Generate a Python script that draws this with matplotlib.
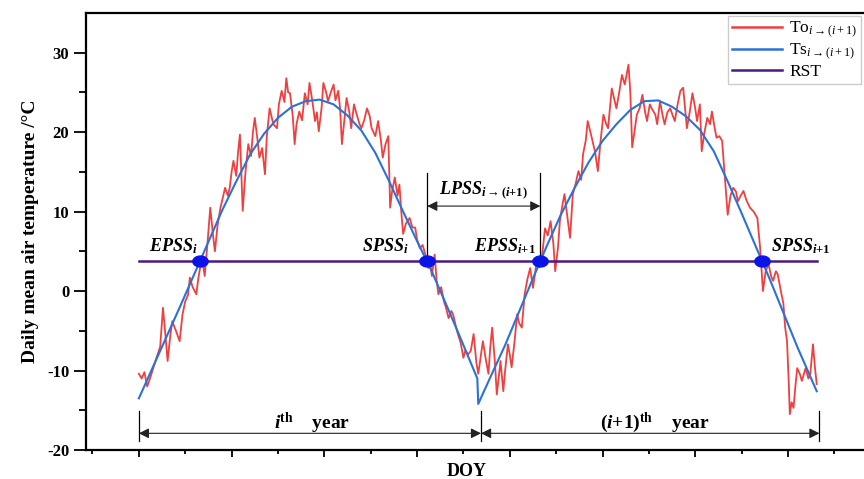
import matplotlib
matplotlib.use("Agg")
import matplotlib.pyplot as plt
from matplotlib.path import Path
import numpy as np

# ---- data ----
to_day = [0, 3, 6, 9, 12, 16, 19, 23, 26, 29, 31, 34, 36, 40, 44, 47, 50, 53, 55, 58,
          62, 64, 66, 69, 71, 74, 77, 80, 82, 85, 88, 90, 93, 96, 98, 100, 102, 105, 107, 109,
          112, 115, 118, 121, 123, 125, 128, 130, 133, 136, 138, 141, 145, 149, 151, 154, 157, 159, 161, 163,
          166, 168, 170, 173, 176, 179, 182, 184, 187, 190, 192, 194, 197, 199, 202, 204, 207, 210, 212, 215,
          217, 219, 222, 224, 227, 229, 232, 235, 238, 240, 243, 246, 249, 251, 255, 258, 261, 263, 266, 269,
          271, 273, 276, 279, 281, 283, 285, 288, 292, 295, 298, 300, 303, 306, 309, 312, 314, 316, 319, 321,
          323, 326, 329, 331, 334, 337, 339, 342, 344, 347, 350, 352, 355, 358, 361, 364, 366, 368, 371, 374,
          377, 379, 381, 384, 386, 388, 390, 393, 395, 398, 400, 402, 405, 408, 410, 413, 416, 419, 422, 425,
          427, 429, 432, 435, 438, 441, 444, 447, 449, 452, 454, 457, 459, 462, 465, 468, 471, 474, 477, 479,
          482, 484, 487, 490, 492, 495, 498, 501, 504, 506, 508, 510, 513, 515, 518, 521, 524, 528, 530, 532,
          535, 537, 540, 543, 546, 548, 551, 553, 557, 559, 562, 565, 567, 570, 573, 576, 578, 581, 584, 587,
          589, 591, 594, 597, 600, 602, 605, 607, 610, 613, 616, 618, 621, 623, 626, 629, 632, 635, 638, 641,
          644, 646, 649, 652, 655, 659, 663, 667, 670, 673, 676, 679, 682, 684, 687, 689, 693, 695, 697, 699,
          701, 702, 704, 706, 708, 710, 713, 715, 717, 719, 722, 724, 726, 727, 729, 731]
to_val = [-10.4, -11.0, -10.2, -12.0, -11.0, -9.5, -8.4, -7.0, -2.1, -6.0, -8.8, -5.5, -3.8, -5.0, -6.3, -3.0, -1.3, -0.5, 1.7, 0.5,
          -0.4, 1.5, 2.9, 3.5, 1.9, 6.0, 10.5, 7.0, 5.0, 8.4, 10.5, 11.5, 13.0, 12.0, 13.0, 15.0, 16.4, 14.5, 17.5, 19.7,
          10.1, 15.0, 18.5, 17.0, 20.0, 21.8, 19.0, 16.8, 18.0, 14.7, 19.5, 23.0, 21.0, 20.5, 23.5, 25.2, 23.8, 26.8, 25.0, 24.9,
          22.0, 18.5, 21.0, 22.6, 21.5, 24.9, 23.5, 26.2, 24.0, 21.4, 22.5, 20.1, 23.0, 26.2, 25.0, 23.9, 25.0, 26.0, 24.0, 25.2,
          23.0, 18.5, 22.0, 24.3, 22.5, 20.5, 23.5, 22.2, 21.0, 20.5, 21.5, 23.0, 22.0, 20.5, 19.5, 21.4, 19.0, 16.8, 18.5, 19.5,
          10.5, 12.5, 14.3, 12.0, 13.4, 10.0, 7.2, 8.5, 9.2, 8.0, 8.0, 6.5, 5.4, 5.8, 4.6, 2.9, 3.8, 1.9, 4.6, 1.5,
          -0.4, 0.5, -1.3, -2.0, -3.4, -2.5, -3.0, -4.5, -5.4, -6.5, -8.4, -7.5, -8.0, -7.5, -5.4, -9.0, -10.4, -8.8, -6.3, -8.5,
          -10.4, -7.0, -4.6, -9.0, -13.0, -11.0, -8.8, -12.6, -10.0, -6.7, -8.0, -9.6, -6.5, -2.9, -4.0, -4.6, -0.4, 1.5, 2.9, 0.4,
          2.0, 3.8, 3.0, 4.6, 7.9, 7.0, 8.8, 6.0, 2.5, 5.5, 8.8, 11.0, 12.2, 9.5, 6.7, 12.2, 13.5, 15.1, 14.0, 17.2,
          19.0, 21.4, 20.0, 18.5, 17.5, 15.1, 19.0, 22.2, 21.0, 20.5, 23.0, 25.5, 24.0, 23.0, 25.0, 27.2, 26.0, 28.5, 25.0, 18.1,
          20.5, 22.2, 23.0, 24.7, 22.5, 21.4, 23.5, 23.0, 22.2, 21.0, 23.9, 22.0, 21.0, 22.5, 23.0, 22.0, 21.4, 23.5, 25.2, 25.6,
          23.0, 20.5, 22.5, 24.9, 23.0, 21.4, 23.5, 17.6, 20.0, 21.8, 21.0, 22.6, 20.5, 19.3, 19.5, 18.9, 14.3, 9.6, 12.0, 13.0,
          12.5, 11.3, 12.0, 12.6, 11.5, 10.5, 10.0, 9.2, 5.4, 0.0, 2.5, 3.4, 1.8, 1.3, 2.5, 2.1, -0.4, -1.5, -4.6, -6.3,
          -12.0, -15.5, -14.0, -14.7, -12.0, -9.7, -10.5, -11.3, -10.5, -9.7, -11.0, -10.5, -8.0, -6.7, -9.5, -11.7]

ts_day = [0, 15, 30, 45, 60, 75, 90, 105, 120, 135, 150, 165, 180, 195, 210, 225, 240, 255, 270,
          285, 300, 315, 330, 345, 360, 365,
          366, 380, 395, 410, 425, 440, 455, 470, 485, 500, 515, 530, 545, 560, 575, 590, 605, 620,
          635, 650, 665, 680, 695, 710, 725, 731]
ts_val = [-13.5, -9.6, -5.7, -1.8, 2.2, 6.2, 10.2, 13.8, 17.2, 19.8, 21.8, 23.2, 23.9, 24.1, 23.5, 22.1, 20.2, 17.4, 13.8,
          10.0, 6.3, 2.7, -1.3, -5.4, -9.6, -11.0,
          -14.2, -10.6, -6.8, -2.6, 1.6, 5.7, 9.6, 13.0, 16.2, 18.9, 21.0, 22.8, 23.9, 24.0, 23.2, 22.0, 20.3, 17.6,
          13.8, 9.8, 5.7, 1.6, -2.7, -7.0, -11.0, -12.6]

rst = 3.8
rst_span = [0, 731]
cross_day = [66, 311, 433, 672]
cross_name = [r'$\mathbfit{EPSS}_{\mathbfit{i}}$', r'$\mathbfit{SPSS}_{\mathbfit{i}}$',
              r'$\mathbfit{EPSS}_{\mathbfit{i}\mathbf{+1}}$', r'$\mathbfit{SPSS}_{\mathbfit{i}\mathbf{+1}}$']
label_day = [37, 266, 395, 714]
year_edges = [0, 369, 734]
year_text = [r'$\mathbfit{i}^{\mathbf{th}}$    year', r'$\mathbf{(}\mathbfit{i}\mathbf{+1)}^{\mathbf{th}}$    year']

plt.rcParams['font.family'] = ['Liberation Serif', 'DejaVu Serif']
plt.rcParams['axes.unicode_minus'] = False
plt.rcParams['mathtext.fontset'] = 'custom'
plt.rcParams['mathtext.rm'] = 'Liberation Serif'
plt.rcParams['mathtext.it'] = 'Liberation Serif:italic'
plt.rcParams['mathtext.bf'] = 'Liberation Serif:bold'
plt.rcParams['mathtext.bfit'] = 'Liberation Serif:italic:bold'

fig = plt.figure(figsize=(8.64, 4.79), dpi=100)
ax = fig.add_axes([86 / 864, 29 / 479, 778 / 864, 437 / 479])

ax.plot(to_day, to_val, color='#ef4040', lw=1.3, label=r'To$_{i\rightarrow(i+1)}$', zorder=2)
ax.plot(ts_day, ts_val, color='#2a72d8', lw=1.5, label=r'Ts$_{i\rightarrow(i+1)}$', zorder=3)
ax.plot(rst_span, [rst, rst], color='#4b1a7e', lw=1.8, label='RST', zorder=4)

# ellipse shaped markers at the crossings
t = np.linspace(0, 2 * np.pi, 40)
ell = Path(np.column_stack([1.4 * np.cos(t), np.sin(t)]))
ax.plot(cross_day, [rst] * 4, ls='none', marker=ell, ms=11, color='#0a14e8', zorder=5)

for d, name in zip(label_day, cross_name):
    ax.text(d, 5.6, name, ha='center', va='center', fontsize=13, zorder=6)

# LPSS bracket
for d in (cross_day[1], cross_day[2]):
    ax.plot([d, d], [rst, 14.8], color='black', lw=0.9, zorder=4)
ax.annotate('', xy=(cross_day[1], 10.7), xytext=(cross_day[2], 10.7),
            arrowprops=dict(arrowstyle='<|-|>', color='#222222', lw=0.8, mutation_scale=15,
                            shrinkA=0, shrinkB=0))
ax.text((cross_day[1] + cross_day[2]) / 2, 12.7,
        r'$\mathbfit{LPSS}_{\mathbfit{i}\rightarrow\mathbf{(}\mathbfit{i}\mathbf{+1)}}$',
        ha='center', va='center', fontsize=13)

# year brackets
for d in year_edges:
    ax.plot([d, d], [-15.1, -18.9], color='black', lw=0.9)
for k in range(2):
    ax.annotate('', xy=(year_edges[k], -17.9), xytext=(year_edges[k + 1], -17.9),
                arrowprops=dict(arrowstyle='<|-|>', color='#222222', lw=0.8, mutation_scale=15,
                                shrinkA=0, shrinkB=0))
ax.text(187, -16.6, year_text[0], ha='center', va='center', fontsize=14, fontweight='bold')
ax.text(557, -16.6, year_text[1], ha='center', va='center', fontsize=14, fontweight='bold')

ax.set_xlim(-57, 782)
ax.set_ylim(-20, 35)
ax.set_xticks(np.arange(0, 701, 100))
ax.set_xticks(np.arange(-50, 781, 50), minor=True)
ax.set_yticks([-20, -10, 0, 10, 20, 30])
ax.set_yticks(np.arange(-15, 35, 10), minor=True)
ax.tick_params(axis='x', which='major', length=5, width=1.3, labelbottom=False)
ax.tick_params(axis='x', which='minor', length=3, width=1.3)
ax.tick_params(axis='y', which='major', length=9, width=1.3, labelsize=12, pad=3)
ax.tick_params(axis='y', which='minor', length=5, width=1.3)
for lab in ax.get_yticklabels():
    lab.set_fontweight('bold')
for s in ('left', 'bottom', 'top'):
    ax.spines[s].set_linewidth(1.6)
ax.spines['right'].set_visible(False)

ax.set_ylabel('Daily mean air temperature /°C', fontsize=14, fontweight='bold', labelpad=6)
fig.text(467 / 864, 1 - 472 / 479, 'DOY', ha='center', va='center', fontsize=13, fontweight='bold')

leg = ax.legend(loc='upper right', fontsize=12.5, handlelength=2.9, borderaxespad=0.15,
                fancybox=False, framealpha=1, edgecolor='#cccccc', labelspacing=0.1,
                handletextpad=0.4, borderpad=0.25)
for ln in leg.get_lines():
    ln.set_linewidth(1.8)

fig.savefig('out.png', dpi=100)
